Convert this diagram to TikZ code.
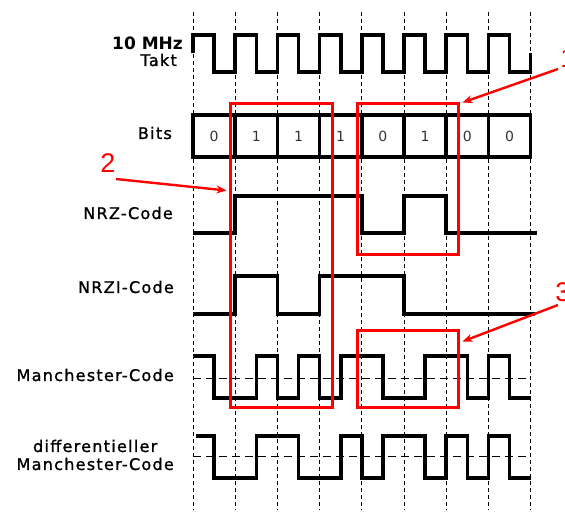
\documentclass[tikz,border=0pt]{standalone}
\usepackage{fontspec}
\newfontfamily\lblfont{DejaVu Sans}[LetterSpace=8, FakeBold=1.2]
\newfontfamily\numfont{Liberation Sans}
\usetikzlibrary{arrows.meta}

\begin{document}
\begin{tikzpicture}[
  x=1pt, y=-1pt,
  grid/.style={line width=1pt, dash pattern=on 4pt off 3pt},
  midline/.style={line width=1pt, dash pattern=on 8pt off 5pt},
  sig/.style={line width=3.6pt, line join=miter},
  bitcell/.style={
    draw, line width=3.6pt, minimum width=42.2pt, minimum height=42pt,
    inner sep=0pt, text=black!80,
    font=\fontspec{DejaVu Sans}\fontsize{14}{14}\selectfont,
  },
  lbl/.style={anchor=east, inner sep=0pt, font=\lblfont\fontsize{16}{18}\selectfont},
  redbox/.style={draw=red, line width=3pt, inner sep=0pt},
  marker/.style={text=red, inner sep=0pt, font=\numfont\fontsize{27}{27}\selectfont},
  pointer/.style={draw=red, line width=2.4pt, -{Stealth[length=10pt,width=8pt]}},
]
\useasboundingbox (0,0) rectangle (565,512);

% bit cell width 42.2, first clock edge at x=193
\def\bw{42.2}

% row labels
\node[anchor=east, inner sep=0pt, font=\fontspec{DejaVu Sans Bold}\fontsize{17}{18}\selectfont] (mhz) at (183,43) {10 MHz};
\node[lbl] (takt) at (177,60) {Takt};
\node[lbl] (bits) at (172,133) {Bits};
\node[lbl] (nrz) at (173,213) {NRZ-Code};
\node[lbl] (nrzi) at (174,287) {NRZI-Code};
\node[lbl] (man) at (174,375) {Manchester-Code};
\node[lbl, align=center] (dman) at (174,455) {differentieller\\Manchester-Code};

\begin{scope}[shift={(193,0)}, x=\bw pt]

% clock grid
\foreach \i in {0,...,8}
  \draw[grid] (\i,12) -- (\i,510);

% 10 MHz Takt
\draw[sig] (0,53) -- (0,35)
  \foreach \i in {0,...,6} { -| (\i+0.5,72) -| (\i+1,35) }
  -| (7.5,72) -| (8,53);

% bits 0 1 1 1 0 1 0 0
\foreach \b [count=\i from 0] in {0,1,1,1,0,1,0,0}
  \node[bitcell] (b\i) at (\i+0.5,136) {\b};

% NRZ
\draw[sig] (0,233) -| (1,196) -| (4,233) -| (5,196) -| (6,233) -- (8.15,233);

% NRZI : toggle on every 1
\draw[sig] (0,314) -| (1,276) -| (2,314) -| (3,276) -| (5,314) -- (8.1,314);

% Manchester
\draw[midline] (0,378) -- (8,378);
\draw[sig] (0,356) -| (0.5,398) -| (1.5,356) -| (2,398) -| (2.5,356)
  -| (3,398) -| (3.5,356) -| (4.5,398) -| (5.5,356) -| (6.5,398)
  -| (7,356) -| (7.5,398) -- (8,398);

% differential Manchester : extra edge at the start of every 0
\draw[midline] (0,456) -- (8,456);
\draw[sig] (0.07,436) -| (0.5,478) -| (1.5,436) -| (2.5,478) -| (3.5,436)
  -| (4,478) -| (4.5,436) -| (5.5,478) -| (6,436) -| (6.5,478)
  -| (7,436) -| (7.5,478) -- (8,478);

\end{scope}

% highlighted regions
\node[redbox, minimum width=102pt, minimum height=304pt] (boxA) at (281,255) {};
\node[redbox, minimum width=101pt, minimum height=151pt] (boxB) at (407.5,178.5) {};
\node[redbox, minimum width=101pt, minimum height=77pt] (boxC) at (407.5,368.5) {};

% markers
\node[marker] (m1) at (568,58) {1};
\node[marker] (m2) at (108,163) {2};
\node[marker] (m3) at (563,292) {3};

\draw[pointer] ([shift={(-10,11)}]m1.center) -- ([shift={(3,1)}]boxB.north east);
\draw[pointer] ([shift={(8,16)}]m2.center) -- ([shift={(-2,89)}]boxA.north west);
\draw[pointer] ([shift={(-5,13)}]m3.center) -- ([shift={(3,13)}]boxC.north east);

\end{tikzpicture}
\end{document}
